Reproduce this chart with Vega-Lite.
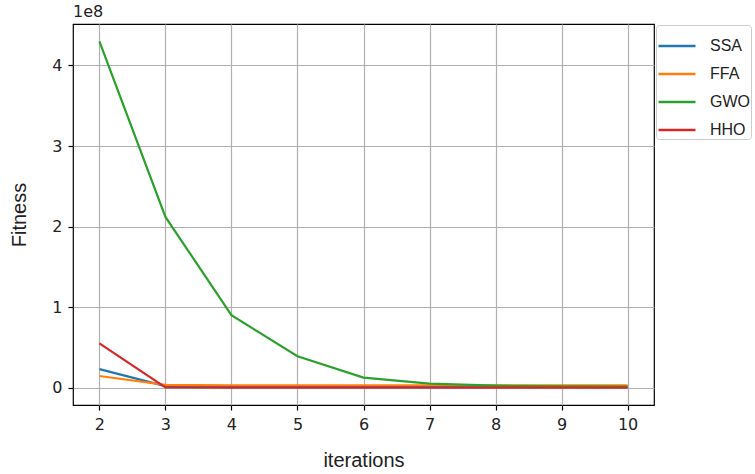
{
  "$schema": "https://vega.github.io/schema/vega-lite/v6.json",
  "autosize": "none",
  "width": 581,
  "height": 381,
  "padding": {"left": 73, "top": 24, "right": 101, "bottom": 69},
  "background": "white",
  "config": {"view": {"stroke": "black", "strokeWidth": 1.2}},
  "title": {"text": "1e8", "anchor": "start", "frame": "group", "fontSize": 16, "fontWeight": "normal", "font": "DejaVu Sans", "color": "#222", "offset": 4},
  "data": {"values": [
    {"iter": 2, "algo": "SSA", "fit": 23000000},
    {"iter": 3, "algo": "SSA", "fit": 2000000},
    {"iter": 4, "algo": "SSA", "fit": 1500000},
    {"iter": 5, "algo": "SSA", "fit": 1200000},
    {"iter": 6, "algo": "SSA", "fit": 1000000},
    {"iter": 7, "algo": "SSA", "fit": 1000000},
    {"iter": 8, "algo": "SSA", "fit": 1000000},
    {"iter": 9, "algo": "SSA", "fit": 1000000},
    {"iter": 10, "algo": "SSA", "fit": 1000000},
    {"iter": 2, "algo": "FFA", "fit": 14500000},
    {"iter": 3, "algo": "FFA", "fit": 3500000},
    {"iter": 4, "algo": "FFA", "fit": 3000000},
    {"iter": 5, "algo": "FFA", "fit": 3000000},
    {"iter": 6, "algo": "FFA", "fit": 3000000},
    {"iter": 7, "algo": "FFA", "fit": 3000000},
    {"iter": 8, "algo": "FFA", "fit": 3000000},
    {"iter": 9, "algo": "FFA", "fit": 3000000},
    {"iter": 10, "algo": "FFA", "fit": 3000000},
    {"iter": 2, "algo": "GWO", "fit": 430000000},
    {"iter": 3, "algo": "GWO", "fit": 212000000},
    {"iter": 4, "algo": "GWO", "fit": 90000000},
    {"iter": 5, "algo": "GWO", "fit": 39000000},
    {"iter": 6, "algo": "GWO", "fit": 12500000},
    {"iter": 7, "algo": "GWO", "fit": 5000000},
    {"iter": 8, "algo": "GWO", "fit": 2500000},
    {"iter": 9, "algo": "GWO", "fit": 1800000},
    {"iter": 10, "algo": "GWO", "fit": 1200000},
    {"iter": 2, "algo": "HHO", "fit": 55000000},
    {"iter": 3, "algo": "HHO", "fit": 200000},
    {"iter": 4, "algo": "HHO", "fit": 100000},
    {"iter": 5, "algo": "HHO", "fit": 100000},
    {"iter": 6, "algo": "HHO", "fit": 100000},
    {"iter": 7, "algo": "HHO", "fit": 100000},
    {"iter": 8, "algo": "HHO", "fit": 100000},
    {"iter": 9, "algo": "HHO", "fit": 100000},
    {"iter": 10, "algo": "HHO", "fit": 100000}
  ]},
  "mark": {"type": "line", "strokeWidth": 2.2},
  "encoding": {
    "x": {
      "field": "iter", "type": "quantitative",
      "scale": {"domain": [1.6, 10.4], "nice": false, "zero": false},
      "axis": {
        "values": [2, 3, 4, 5, 6, 7, 8, 9, 10],
        "title": "iterations", "titleFont": "Liberation Sans", "titleFontSize": 20, "titleFontWeight": "normal", "titleColor": "#222", "titlePadding": 18,
        "labelFont": "DejaVu Sans", "labelFontSize": 16, "labelColor": "#222", "labelPadding": 6,
        "tickColor": "black", "tickSize": 5, "tickWidth": 1.2, "domain": false,
        "grid": true, "gridColor": "#b0b0b0", "gridWidth": 1.2
      }
    },
    "y": {
      "field": "fit", "type": "quantitative",
      "scale": {"domain": [-21500000, 451500000], "nice": false, "zero": false},
      "axis": {
        "values": [0, 100000000, 200000000, 300000000, 400000000],
        "labelExpr": "format(datum.value / 100000000, 'd')",
        "title": "Fitness", "titleFont": "Liberation Sans", "titleFontSize": 20, "titleFontWeight": "normal", "titleColor": "#222", "titlePadding": 22,
        "labelFont": "DejaVu Sans", "labelFontSize": 16, "labelColor": "#222", "labelPadding": 6,
        "tickColor": "black", "tickSize": 5, "tickWidth": 1.2, "domain": false,
        "grid": true, "gridColor": "#b0b0b0", "gridWidth": 1.2
      }
    },
    "color": {
      "field": "algo", "type": "nominal",
      "scale": {"domain": ["SSA", "FFA", "GWO", "HHO"], "range": ["#1f77b4", "#ff7f0e", "#2ca02c", "#d62728"]},
      "legend": {
        "title": null, "orient": "none", "legendX": 583, "legendY": 1,
        "symbolType": "stroke", "symbolSize": 1370, "symbolStrokeWidth": 2.5,
        "labelFont": "Liberation Sans", "labelFontSize": 16, "labelColor": "#222", "labelOffset": 13,
        "rowPadding": -4, "padding": 1,
        "strokeColor": "#cccccc", "fillColor": "white", "cornerRadius": 3
      }
    },
    "order": {"field": "iter", "type": "quantitative"}
  }
}
